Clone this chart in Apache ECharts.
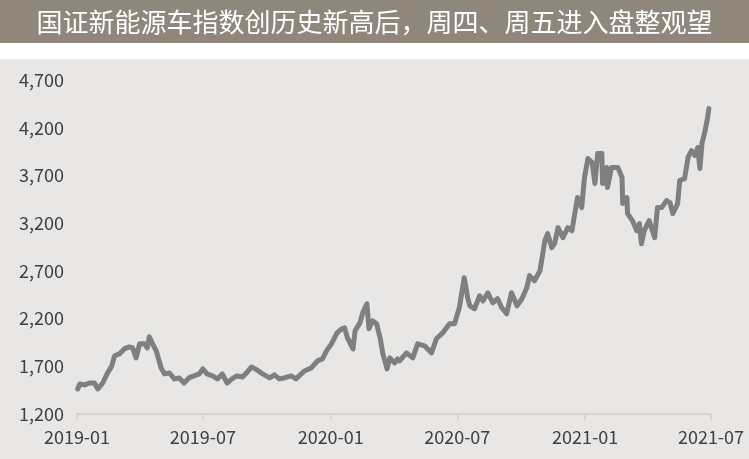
<!DOCTYPE html>
<html>
<head>
<meta charset="utf-8">
<script src="https://cdn.jsdelivr.net/npm/echarts@6/dist/echarts.min.js"></script>
<style>
html,body{margin:0;padding:0;background:#fff;}
#chart{width:749px;height:459px;}
</style>
</head>
<body>
<div id="chart"></div>
<script>
const titleText = '国证新能源车指数创历史新高后，周四、周五进入盘整观望';
const dates = [
'2019-01-02','2019-01-05','2019-01-12','2019-01-19','2019-01-26','2019-01-31','2019-02-07','2019-02-14','2019-02-20','2019-02-24',
'2019-03-03','2019-03-10','2019-03-17','2019-03-22','2019-03-27','2019-04-01','2019-04-08','2019-04-12','2019-04-15','2019-04-19',
'2019-04-25','2019-05-02','2019-05-07','2019-05-14','2019-05-21','2019-05-28','2019-06-04','2019-06-11','2019-06-18','2019-06-26',
'2019-07-01','2019-07-07','2019-07-15','2019-07-22','2019-07-29','2019-08-05','2019-08-12','2019-08-19','2019-08-27','2019-09-03',
'2019-09-09','2019-09-17','2019-09-25','2019-10-05','2019-10-12','2019-10-19','2019-10-26','2019-11-05','2019-11-12','2019-11-24',
'2019-12-04','2019-12-13','2019-12-20','2019-12-26','2020-01-02','2020-01-10','2020-01-17','2020-01-21','2020-01-25','2020-02-02',
'2020-02-05','2020-02-12','2020-02-16','2020-02-22','2020-02-25','2020-03-01','2020-03-07','2020-03-12','2020-03-16','2020-03-22',
'2020-03-26','2020-04-02','2020-04-06','2020-04-09','2020-04-19','2020-04-28','2020-05-05','2020-05-15','2020-05-25','2020-06-01',
'2020-06-10','2020-06-20','2020-06-27','2020-07-04','2020-07-11','2020-07-16','2020-07-19','2020-07-26','2020-08-02','2020-08-07',
'2020-08-14','2020-08-21','2020-08-28','2020-09-03','2020-09-10','2020-09-17','2020-09-25','2020-10-02','2020-10-09','2020-10-13',
'2020-10-20','2020-10-28','2020-11-01','2020-11-04','2020-11-08','2020-11-14','2020-11-18','2020-11-23','2020-11-30','2020-12-07',
'2020-12-13','2020-12-17','2020-12-21','2020-12-27','2020-12-31','2021-01-05','2021-01-11','2021-01-15','2021-01-19','2021-01-25',
'2021-01-26','2021-02-01','2021-02-02','2021-02-08','2021-02-12','2021-02-17','2021-02-23','2021-02-24','2021-03-02','2021-03-03',
'2021-03-10','2021-03-16','2021-03-20','2021-03-23','2021-03-27','2021-04-03','2021-04-11','2021-04-15','2021-04-21','2021-04-28',
'2021-05-03','2021-05-07','2021-05-14','2021-05-17','2021-05-24','2021-05-29','2021-06-03','2021-06-08','2021-06-12','2021-06-15',
'2021-06-18','2021-06-22','2021-06-26','2021-06-28'
];
const values = [
1462,1515,1505,1525,1525,1462,1525,1630,1704,1810,
1830,1882,1903,1893,1788,1935,1935,1893,2008,1945,
1862,1683,1620,1630,1568,1578,1525,1578,1599,1620,
1672,1620,1599,1568,1620,1525,1568,1599,1588,1641,
1693,1662,1620,1578,1610,1568,1578,1599,1568,1651,
1683,1757,1778,1862,1935,2050,2093,2103,1998,1882,
2072,2155,2260,2355,2093,2177,2145,1998,1830,1672,
1788,1735,1778,1757,1840,1788,1935,1914,1840,1988,
2050,2145,2145,2313,2628,2418,2334,2303,2439,2386,
2470,2366,2408,2313,2250,2470,2334,2408,2523,2650,
2597,2702,2880,3017,3090,2943,2985,3153,3048,3153,
3122,3300,3468,3363,3678,3878,3836,3615,3930,3930,
3615,3783,3573,3783,3783,3783,3678,3405,3468,3300,
3227,3122,3195,2985,3122,3227,3048,3363,3363,3436,
3415,3300,3405,3647,3667,3888,3960,3909,3993,3773,
4035,4150,4300,4400
];
const yMin = 1200, yMax = 4700, yStep = 500;
const xMin = '2019-01-01', xMax = '2021-07-01';
const xTickLabels = ['2019-01','2019-07','2020-01','2020-07','2021-01','2021-07'];

const toMs = d => Date.parse((d.length === 7 ? d + '-01' : d) + 'T00:00:00Z');
const chart = echarts.init(document.getElementById('chart'), null, {renderer:'canvas'});
const font = '"Noto Sans CJK SC","Noto Sans",sans-serif';
const seriesData = dates.map((d,i)=>[toMs(d), values[i]]);
const xTicksMs = xTickLabels.map(toMs);
function fmtMonth(v){
  const dt = new Date(v);
  const y = dt.getUTCFullYear();
  const m = dt.getUTCMonth()+1;
  return y + '-' + (m<10?'0':'') + m;
}
chart.setOption({
  animation:false,
  backgroundColor:'#ffffff',
  textStyle:{fontFamily:font},
  graphic:[
    {type:'rect', left:0, top:0, shape:{width:749,height:43}, style:{fill:'#8f877b'}, z:-10},
    {type:'rect', left:0, top:59, shape:{width:749,height:400}, style:{fill:'#e8e7e5'}, z:-10}
  ],
  title:{
    text:titleText,
    left:'center',
    top:4,
    textStyle:{color:'#ffffff',fontSize:26,fontWeight:'normal',fontFamily:font}
  },
  grid:{left:77,right:38,top:80,bottom:45,containLabel:false},
  xAxis:{
    type:'value',
    min:toMs(xMin), max:toMs(xMax),
    splitLine:{show:false},
    axisLine:{show:true,lineStyle:{color:'#d5d4d2',width:2}},
    axisTick:{show:true,inside:false,length:6,lineStyle:{color:'#d5d4d2',width:2},
      customValues:xTicksMs},
    axisLabel:{color:'#404040',fontSize:18,fontFamily:font,margin:14,
      customValues:xTicksMs,
      formatter:function(v){return fmtMonth(v);}}
  },
  yAxis:{
    type:'value',
    min:yMin, max:yMax, interval:yStep,
    splitLine:{show:false},
    axisLine:{show:false},
    axisTick:{show:false},
    axisLabel:{color:'#404040',fontSize:18,fontFamily:font,margin:13,
      formatter:function(v){return v.toLocaleString('en-US');}}
  },
  series:[{
    type:'line',
    data:seriesData,
    showSymbol:false,
    symbol:'none',
    lineStyle:{color:'#7f7f7f',width:5,join:'round',cap:'round'},
    itemStyle:{color:'#7f7f7f'}
  }]
});
</script>
</body>
</html>
